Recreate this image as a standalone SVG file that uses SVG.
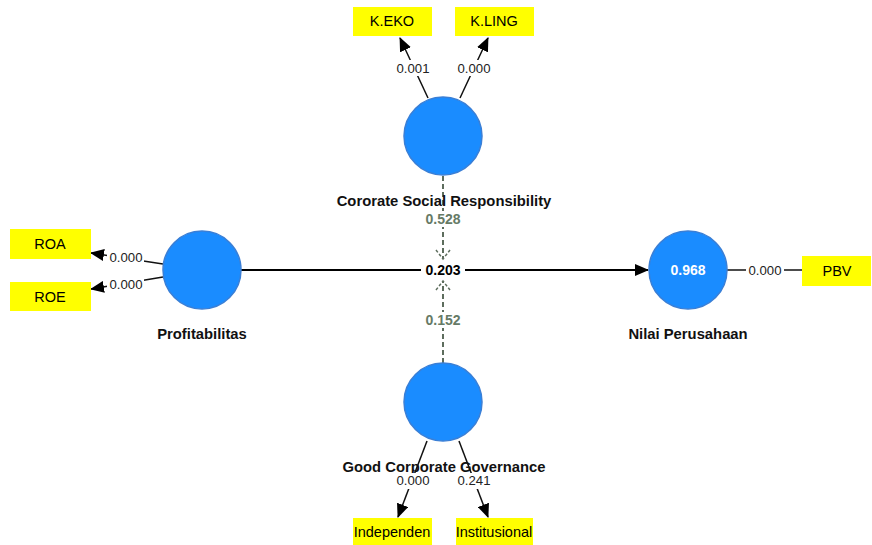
<svg xmlns="http://www.w3.org/2000/svg" width="872" height="545" viewBox="0 0 872 545">
<style>
.ind{fill:#ffff00}
.it{font-family:"Liberation Sans",Arial,sans-serif;font-size:14.5px;fill:#000;text-anchor:middle}
.lv{fill:#1a8cff;stroke:#3a7fd6;stroke-width:1.5}
.lt{font-family:"Liberation Sans",Arial,sans-serif;font-size:14.8px;font-weight:bold;fill:#111;text-anchor:middle}
.w{font-family:"Liberation Sans",Arial,sans-serif;font-size:13.2px;fill:#222;text-anchor:middle}
.bg{fill:#fff}
.ln{stroke:#111;stroke-width:1.5;fill:none}
.ds{stroke:#5d6d5d;stroke-width:2;stroke-dasharray:5,3;fill:none}
.dw{font-family:"Liberation Sans",Arial,sans-serif;font-size:14px;font-weight:bold;fill:#667a66;text-anchor:middle}
.vt{font-family:"Liberation Sans",Arial,sans-serif;font-size:14px;font-weight:bold;text-anchor:middle}
</style>
<defs>
<marker id="ah" markerWidth="14" markerHeight="12" refX="13" refY="6" orient="auto" markerUnits="userSpaceOnUse">
<path d="M0,0 L14,6 L0,12 Z" fill="#000"/>
</marker>
</defs>
<rect width="872" height="545" fill="#fff"/>
<g id="connectors">
<line class="ln" x1="428" y1="98" x2="400" y2="38" marker-end="url(#ah)"/>
<line class="ln" x1="460" y1="98" x2="488" y2="38" marker-end="url(#ah)"/>
<line class="ln" x1="163" y1="264" x2="91" y2="253" marker-end="url(#ah)"/>
<line class="ln" x1="163" y1="277" x2="91" y2="289" marker-end="url(#ah)"/>
<line class="ln" x1="727" y1="270" x2="802" y2="270"/>
<line class="ln" x1="427" y1="441" x2="398" y2="517" marker-end="url(#ah)"/>
<line class="ln" x1="459" y1="441" x2="488" y2="517" marker-end="url(#ah)"/>
<line x1="241" y1="270" x2="648" y2="270" stroke="#000" stroke-width="2" marker-end="url(#ah)"/>
<line class="ds" x1="443" y1="176" x2="443" y2="258"/>
<path d="M436,250 L443,259 L450,250" stroke="#5d6d5d" stroke-width="1.5" stroke-dasharray="3,2" fill="none"/>
<line class="ds" x1="443" y1="363" x2="443" y2="282"/>
<path d="M436,290 L443,281 L450,290" stroke="#5d6d5d" stroke-width="1.5" stroke-dasharray="3,2" fill="none"/>
<rect class="bg" x="395" y="60" width="36" height="16"/><text class="w" x="413" y="73">0.001</text>
<rect class="bg" x="456" y="60" width="36" height="16"/><text class="w" x="474" y="73">0.000</text>
<rect class="bg" x="107" y="250" width="37" height="15"/><text class="w" x="126" y="262">0.000</text>
<rect class="bg" x="107" y="277" width="37" height="15"/><text class="w" x="126" y="289">0.000</text>
<rect class="bg" x="746" y="263" width="38" height="15"/><text class="w" x="765" y="275">0.000</text>
<rect class="bg" x="421" y="262" width="44" height="16"/><text class="vt" x="443" y="275" fill="#000">0.203</text>
<rect class="bg" x="424" y="211" width="38" height="16"/><text class="dw" x="443" y="224">0.528</text>
<rect class="bg" x="424" y="312" width="38" height="16"/><text class="dw" x="443" y="325">0.152</text>
</g>
<g id="K.EKO"><rect class="ind" x="353" y="7" width="79" height="29"/><text class="it" x="392" y="26">K.EKO</text></g>
<g id="K.LING"><rect class="ind" x="455" y="7" width="79" height="29"/><text class="it" x="494" y="26">K.LING</text></g>
<g id="ROA"><rect class="ind" x="10" y="229" width="81" height="30"/><text class="it" x="50" y="249">ROA</text></g>
<g id="ROE"><rect class="ind" x="10" y="282" width="81" height="29"/><text class="it" x="50" y="302">ROE</text></g>
<g id="PBV"><rect class="ind" x="802" y="256" width="69" height="30"/><text class="it" x="837" y="276">PBV</text></g>
<g id="Independen"><rect class="ind" x="353" y="518" width="79" height="27"/><text class="it" x="392" y="537">Independen</text></g>
<g id="Institusional"><rect class="ind" x="456" y="518" width="77" height="27"/><text class="it" x="494" y="537">Institusional</text></g>
<g id="CSR"><circle class="lv" cx="443" cy="136" r="39"/><text class="lt" x="444" y="206">Cororate Social Responsibility</text></g>
<g id="Profitabilitas"><circle class="lv" cx="202" cy="270" r="39"/><text class="lt" x="202" y="339">Profitabilitas</text></g>
<g id="NilaiPerusahaan"><circle class="lv" cx="688" cy="270" r="39"/><text class="vt" x="688" y="275" fill="#fff">0.968</text><text class="lt" x="688" y="339">Nilai Perusahaan</text></g>
<g id="GCG"><circle class="lv" cx="443" cy="402" r="39"/><text class="lt" x="444" y="472">Good Corporate Governance</text>
<rect class="bg" x="394" y="473" width="38" height="16"/><text class="w" x="413" y="485">0.000</text>
<rect class="bg" x="455" y="473" width="38" height="16"/><text class="w" x="474" y="485">0.241</text></g>
</svg>
